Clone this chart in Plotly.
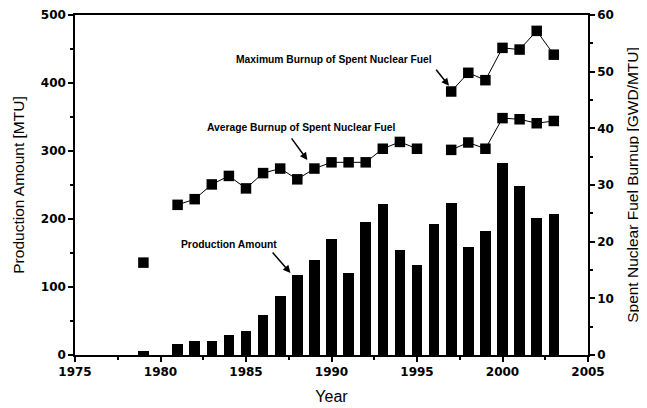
import plotly.graph_objects as go

# Production amount [MTU] by year
prod_years = [1979, 1981, 1982, 1983, 1984, 1985, 1986, 1987, 1988, 1989, 1990, 1991,
              1992, 1993, 1994, 1995, 1996, 1997, 1998, 1999, 2000, 2001, 2002, 2003]
prod_values = [6, 16, 20, 20, 30, 35, 59, 87, 117, 140, 170, 121,
               195, 222, 154, 132, 192, 223, 159, 183, 282, 248, 202, 207]

# Average burnup [GWD/MTU] (None = gap)
avg_years = [1979, 1980, 1981, 1982, 1983, 1984, 1985, 1986, 1987, 1988, 1989, 1990, 1991,
             1992, 1993, 1994, 1995, 1996, 1997, 1998, 1999, 2000, 2001, 2002, 2003]
avg_values = [16.3, None, 26.5, 27.5, 30.1, 31.6, 29.4, 32.1, 32.9, 31.0, 32.9, 34.0, 34.0,
              34.0, 36.4, 37.6, 36.4, None, 36.2, 37.5, 36.4, 41.8, 41.6, 40.9, 41.3]

# Maximum burnup [GWD/MTU]
max_years = [1997, 1998, 1999, 2000, 2001, 2002, 2003]
max_values = [46.5, 49.8, 48.5, 54.2, 53.9, 57.2, 53.0]

x_ticks = [1975, 1980, 1985, 1990, 1995, 2000, 2005]

tick_font = dict(family="DejaVu Sans", size=12, color="black", weight="bold")
title_font = dict(family="Liberation Sans, Arial", size=15.5, color="black")
ann_font = dict(family="Liberation Sans, Arial", size=10.3, color="black", weight="bold")

fig = go.Figure()
fig.add_trace(go.Bar(x=prod_years, y=prod_values, width=0.62,
                     marker=dict(color="black", line=dict(width=0)), yaxis="y"))
fig.add_trace(go.Scatter(x=avg_years, y=avg_values, mode="lines+markers", yaxis="y2",
                         line=dict(color="black", width=1), connectgaps=False,
                         marker=dict(symbol="square", size=10.5, color="black")))
fig.add_trace(go.Scatter(x=max_years, y=max_values, mode="lines+markers", yaxis="y2",
                         line=dict(color="black", width=1),
                         marker=dict(symbol="square", size=10.5, color="black")))

axis_common = dict(showgrid=False, zeroline=False, showline=True, linecolor="black",
                   linewidth=1.5, ticks="outside", ticklen=5, tickwidth=1.5,
                   tickcolor="black", tickfont=tick_font, automargin=False)

# The page body adds an 8px offset, so the figure is sized 8px smaller
fig.update_layout(
    width=639, height=400,
    margin=dict(l=67, r=59, t=7, b=53),
    paper_bgcolor="white", plot_bgcolor="white",
    showlegend=False, bargap=0,
    xaxis=dict(range=[1975, 2005], tickvals=x_ticks, mirror=True,
               minor=dict(dtick=2.5, tick0=1975, ticks="outside", ticklen=3, tickcolor="black"),
               title=dict(text="Year", font=dict(family="Liberation Sans, Arial", size=16, color="black"),
                          standoff=13),
               **axis_common),
    yaxis=dict(range=[0, 500], dtick=100,
               minor=dict(dtick=50, ticks="outside", ticklen=3, tickcolor="black"),
               title=dict(text="Production Amount [MTU]", font=title_font, standoff=12),
               **axis_common),
    yaxis2=dict(range=[0, 60], dtick=10, overlaying="y", side="right",
                minor=dict(dtick=5, ticks="outside", ticklen=3, tickcolor="black"),
                title=dict(text="Spent Nuclear Fuel Burnup [GWD/MTU]", font=title_font, standoff=14),
                **axis_common),
)

# Text labels
fig.add_annotation(x=1990.17, y=52.1, xref="x", yref="y2", text="Maximum Burnup of Spent Nuclear Fuel",
                   showarrow=False, font=ann_font)
fig.add_annotation(x=1988.24, y=40.2, xref="x", yref="y2", text="Average Burnup of Spent Nuclear Fuel",
                   showarrow=False, font=ann_font)
fig.add_annotation(x=1984.02, y=163, xref="x", yref="y", text="Production Amount",
                   showarrow=False, font=ann_font)

# Arrows
arrow_style = dict(showarrow=True, arrowhead=2, arrowsize=1, arrowwidth=1.5, arrowcolor="black", text="")
fig.add_annotation(x=1996.87, y=47.5, xref="x", yref="y2", ax=1996.05, ay=50.6, axref="x", ayref="y2", **arrow_style)
fig.add_annotation(x=1988.59, y=34.4, xref="x", yref="y2", ax=1987.6, ay=38.5, axref="x", ayref="y2", **arrow_style)
fig.add_annotation(x=1987.6, y=120.6, xref="x", yref="y", ax=1986.48, ay=152.9, axref="x", ayref="y", **arrow_style)

fig.write_html("out.html")
